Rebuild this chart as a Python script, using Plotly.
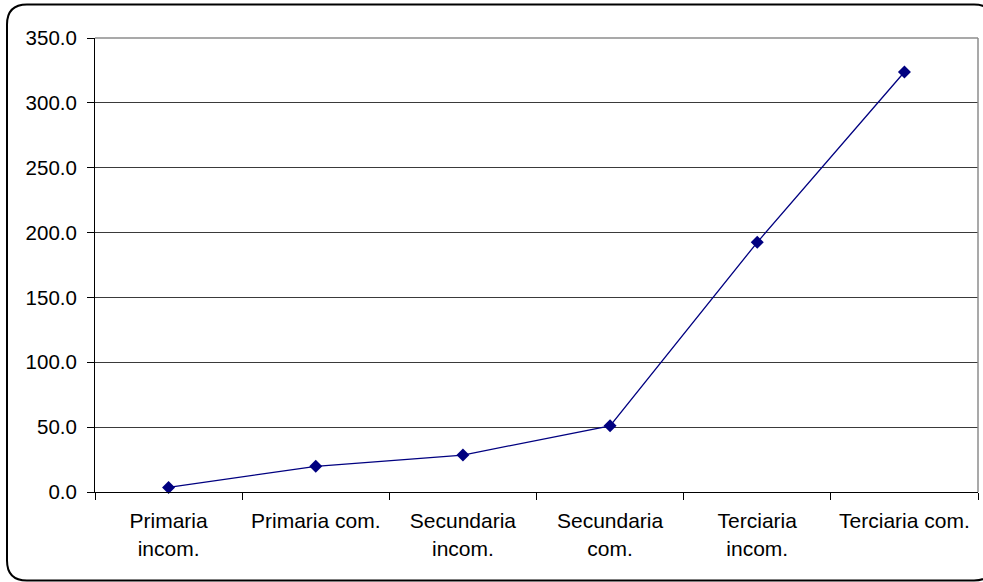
import plotly.graph_objects as go

categories = ["Primaria<br>incom.", "Primaria com.", "Secundaria<br>incom.",
              "Secundaria<br>com.", "Terciaria<br>incom.", "Terciaria com."]
values = [3.5, 19.8, 28.5, 51.0, 192.5, 323.8]
y_ticks = [0, 50, 100, 150, 200, 250, 300, 350]

W, H = 983, 582
ML, MR, MT, MB = 95, 5, 38, 90
PW, PH = W - ML - MR, H - MT - MB


def px(x):
    return (x - ML) / PW


def py(y):
    return (H - MB - y) / PH


fig = go.Figure()
fig.add_trace(go.Scatter(
    x=categories, y=values, mode="lines+markers",
    line=dict(color="#000080", width=1.3),
    marker=dict(symbol="diamond", size=10, color="#000080"),
    showlegend=False, cliponaxis=False,
))

# rounded outer border
L, T, R, B, r = 7, 4.5, 994, 580.5, 20
path = (f"M {px(L + r)},{py(T)} L {px(R - r)},{py(T)} Q {px(R)},{py(T)} {px(R)},{py(T + r)} "
        f"L {px(R)},{py(B - r)} Q {px(R)},{py(B)} {px(R - r)},{py(B)} "
        f"L {px(L + r)},{py(B)} Q {px(L)},{py(B)} {px(L)},{py(B - r)} "
        f"L {px(L)},{py(T + r)} Q {px(L)},{py(T)} {px(L + r)},{py(T)} Z")
fig.add_shape(type="path", path=path, xref="paper", yref="paper",
              line=dict(color="black", width=2), layer="above")
# plot-area border (top and right) in gray
fig.add_shape(type="line", xref="paper", yref="paper", x0=0, x1=1, y0=1, y1=1,
              line=dict(color="#8c8c8c", width=1.5), layer="above")
fig.add_shape(type="line", xref="paper", yref="paper", x0=1, x1=1, y0=0, y1=1,
              line=dict(color="#8c8c8c", width=1.5), layer="above")

fig.update_layout(
    width=W, height=H,
    margin=dict(l=ML, r=MR, t=MT, b=MB),
    paper_bgcolor="white", plot_bgcolor="white",
    font=dict(family="Liberation Sans, Arial, sans-serif", size=20.5, color="black"),
    xaxis=dict(
        type="category", range=[-0.5, 5.5], tickson="boundaries",
        ticks="outside", ticklen=7, tickcolor="black", tickwidth=1,
        showline=True, linecolor="black", linewidth=1, showgrid=False,
        tickfont=dict(size=21), ticklabelstandoff=10, fixedrange=True,
    ),
    yaxis=dict(
        range=[0, 350], tickvals=y_ticks, tickformat=".1f",
        ticks="outside", ticklen=7, tickcolor="black", tickwidth=1,
        showline=True, linecolor="black", linewidth=1,
        showgrid=True, gridcolor="#3a3a3a", gridwidth=1, zeroline=False,
        tickfont=dict(size=20.5), ticklabelstandoff=6, fixedrange=True,
    ),
)

fig.write_html("out.html")
